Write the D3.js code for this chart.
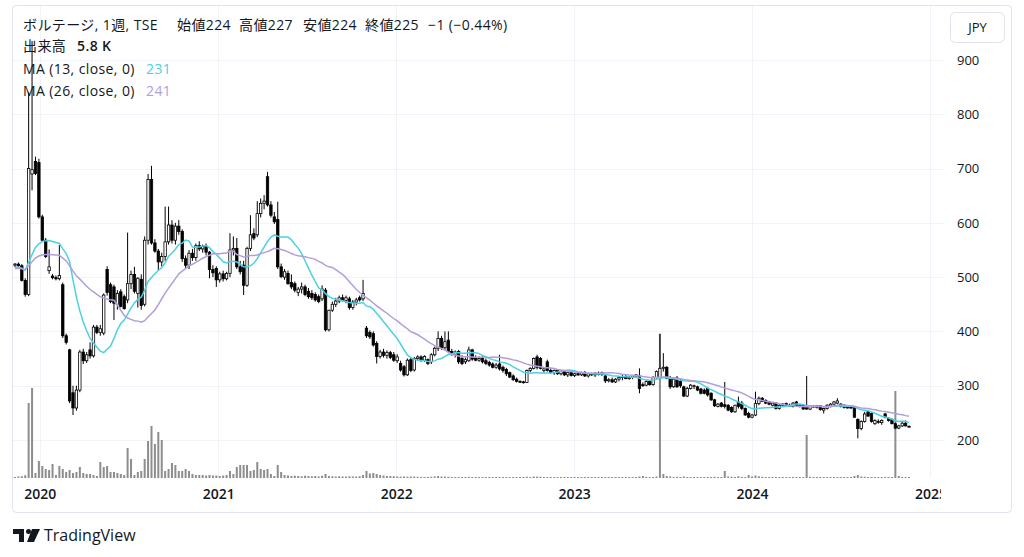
<!DOCTYPE html>
<html>
<head>
<meta charset="utf-8">
<script src="https://cdn.jsdelivr.net/npm/d3@7"></script>
<style>
  body { margin: 0; background: #fff; }
  svg text { font-family: "Open Sans", "Noto Sans CJK JP", sans-serif; fill: #131722; }
</style>
</head>
<body>
<svg id="chart" width="1024" height="557"></svg>
<script>
// weekly bars, first bar week
const firstWeek = "2019-11-11";

const opens = [
  522,524,521,494,468,690,713,711,611,568,
  512,502,499,497,486,392,366,287,259,292,
  362,346,366,355,408,398,397,514,486,482,
  450,473,464,458,488,505,470,496,450,568,
  680,563,548,528,538,565,596,568,594,584,
  534,522,544,536,558,552,557,546,514,516,
  495,506,497,507,550,553,519,522,485,553,
  580,578,617,636,685,633,611,606,519,500,
  507,490,488,472,478,482,474,470,468,464,
  460,476,403,439,450,456,462,457,460,444,
  454,462,460,406,398,396,378,354,362,356,
  361,357,346,341,335,320,348,329,350,353,
  347,348,344,357,369,387,370,384,363,358,
  363,350,344,346,366,352,347,352,346,343,
  340,334,340,334,330,324,318,312,308,307,
  306,328,332,353,350,328,344,328,324,328,
  322,326,320,324,319,322,320,324,318,322,
  320,323,321,318,309,311,307,312,315,317,
  313,315,318,318,302,301,308,302,315,314,
  332,334,314,298,314,308,298,281,295,299,
  298,294,292,295,286,274,262,268,265,264,
  260,252,270,268,258,249,242,246,267,277,
  273,270,264,268,258,264,267,264,262,270,
  262,264,263,257,262,260,263,255,258,262,
  266,268,266,264,262,261,260,238,221,234,
  252,249,230,234,232,248,240,238,230,222,
  226,231,224
];
const highs = [
  526,527,524,498,840,935,722,718,615,572,
  551,506,503,559,490,396,368,300,300,366,
  368,362,380,412,412,412,470,520,490,486,
  476,478,468,582,512,519,500,505,575,690,
  705,570,552,545,630,630,605,600,605,588,
  540,550,552,562,566,560,562,548,522,520,
  510,512,510,581,575,572,530,530,556,614,
  590,640,645,651,694,640,620,639,525,515,
  512,505,492,482,490,486,480,476,472,468,
  485,480,440,455,462,466,468,466,464,458,
  462,466,495,410,402,400,382,366,368,365,
  364,362,358,346,338,350,352,353,356,356,
  356,350,360,372,400,392,400,400,368,365,
  366,356,352,372,368,356,354,356,350,346,
  343,342,357,337,333,326,321,315,310,309,
  330,334,352,357,353,333,348,332,330,330,
  328,328,326,326,324,325,326,327,324,324,
  325,326,326,320,314,315,314,318,320,320,
  318,320,321,332,306,310,310,318,328,396,
  360,336,318,315,318,312,300,298,303,302,
  300,296,295,298,288,276,268,270,307,266,
  262,265,280,272,260,252,248,289,280,279,
  275,272,270,270,266,268,269,267,270,272,
  266,266,318,263,264,264,264,260,266,268,
  272,277,268,266,264,263,262,240,236,252,
  254,251,238,238,238,250,242,240,232,228,
  234,236,227
];
const lows = [
  518,519,492,464,465,660,688,608,565,535,
  506,496,494,494,388,376,268,246,254,288,
  340,342,350,352,395,392,393,466,452,421,
  440,444,440,452,478,470,444,440,446,560,
  560,545,513,520,530,560,562,560,578,528,
  515,515,530,530,548,545,540,498,500,482,
  490,492,494,500,540,515,505,467,482,548,
  568,574,610,625,630,610,598,515,498,495,
  486,478,472,465,470,465,460,458,455,452,
  456,400,400,436,445,452,455,452,440,440,
  448,455,456,388,386,372,341,350,352,350,
  349,344,342,326,317,318,325,326,346,344,
  344,338,340,354,364,366,366,360,355,352,
  340,338,340,344,346,345,344,341,338,335,
  332,331,328,324,318,314,309,306,305,304,
  305,325,330,330,330,324,326,322,320,320,
  319,318,316,317,316,318,318,316,315,318,
  316,319,318,305,306,305,305,308,310,312,
  311,312,314,286,298,299,300,300,313,312,
  326,312,294,296,296,296,279,279,293,294,
  290,284,284,280,272,261,260,260,258,253,
  250,250,258,255,245,240,240,244,264,270,
  266,264,262,256,256,262,262,262,260,262,
  260,256,256,255,259,258,254,249,256,260,
  264,266,260,258,258,257,241,203,218,232,
  243,232,228,230,228,240,234,229,220,220,
  224,225,224
];
const closes = [
  524,521,494,468,700,698,691,611,568,538,
  519,499,497,503,392,380,272,259,292,362,
  346,357,355,408,398,405,467,472,455,452,
  470,446,442,488,505,474,498,448,568,680,
  563,548,528,538,565,596,568,594,584,534,
  522,544,536,558,552,557,546,514,508,495,
  506,497,507,550,553,519,510,485,553,578,
  572,617,636,640,633,614,602,519,501,510,
  488,482,476,478,482,468,464,462,458,455,
  478,403,439,450,456,462,457,462,444,454,
  458,458,470,392,390,375,354,362,356,361,
  352,347,353,329,320,347,328,350,353,347,
  354,341,357,369,387,370,381,363,360,362,
  344,341,348,366,349,347,350,344,341,338,
  334,338,331,328,322,316,311,308,307,306,
  328,332,350,334,332,331,328,324,328,322,
  326,320,324,319,322,320,324,318,322,320,
  323,321,324,309,311,307,312,315,317,313,
  315,318,320,295,300,308,302,315,326,332,
  334,314,298,312,298,300,281,295,301,300,
  292,286,286,283,274,263,266,262,262,255,
  252,264,262,258,246,242,246,267,277,271,
  268,266,268,258,264,266,264,264,268,264,
  264,257,257,262,261,263,256,258,264,266,
  270,272,262,260,259,259,242,221,234,248,
  244,234,236,234,236,242,236,230,222,226,
  231,226,225
];
// volume, thousand shares
const volumes = [
  20,30,35,55,1500,1800,100,340,240,180,
  160,280,60,240,180,120,160,100,120,220,
  100,80,80,60,40,320,220,240,120,120,
  100,80,60,600,380,60,120,140,380,740,
  1040,680,920,760,140,180,300,260,140,140,
  180,140,80,60,60,60,50,60,50,50,
  40,50,60,140,80,220,260,260,260,140,
  160,320,180,160,180,80,40,260,120,60,
  50,40,45,40,35,45,40,35,40,30,
  45,80,40,35,30,35,30,28,35,30,
  30,35,60,140,90,100,80,60,50,40,
  40,35,30,28,30,25,30,28,25,22,
  20,22,25,30,40,30,28,25,22,20,
  22,20,18,25,20,18,16,18,15,16,
  15,14,20,16,15,14,12,12,10,12,
  25,20,30,28,25,18,20,16,14,15,
  14,12,12,10,12,10,12,11,10,12,
  10,12,10,14,12,10,11,10,12,10,
  10,12,14,30,40,20,16,18,30,2880,
  80,40,30,22,25,20,30,20,18,16,
  16,14,16,14,20,25,18,16,140,30,
  25,20,35,22,20,60,30,50,35,25,
  20,18,16,15,20,14,16,14,15,14,
  14,20,860,25,18,16,14,12,14,16,
  20,18,14,12,12,14,40,60,30,25,
  20,18,16,14,14,22,16,14,1740,40,
  20,12,5.8
];
const priorCloses = [508,512,515,510,506,511,518,520,516,512,509,514,519,522,517,513,510,515,520,523,518,514,517,521,523];

const priceTicks = [200, 300, 400, 500, 600, 700, 800, 900];
const yearTicks = ["2020", "2021", "2022", "2023", "2024", "2025"];
const maPeriods = [13, 26];
const maColors = ["#4dd0e1", "#b39ddb"];
const maLastValues = ["231", "241"];

const margin = {left: 13, right: 945, top: 6, bottom: 478};

const svg = d3.select("#chart");
const t0 = d3.timeParse("%Y-%m-%d")(firstWeek);
const dates = closes.map((d, i) => d3.timeWeek.offset(t0, i));

const x = d3.scaleTime()
  .domain([t0, d3.timeWeek.offset(t0, 268)])
  .range([15, 929.5]);
const y = d3.scaleLinear().domain([200, 900]).range([440, 60]);
const vh = d3.scaleLinear().domain([0, 2880]).range([0, 144]);

// outer frame
svg.append("rect")
  .attr("x", 12.5).attr("y", 5.5).attr("width", 999).attr("height", 507)
  .attr("rx", 4).attr("fill", "#fff").attr("stroke", "#e0e3eb");

const defs = svg.append("defs");
defs.append("clipPath").attr("id", "pane").append("rect")
  .attr("x", margin.left).attr("y", margin.top)
  .attr("width", margin.right - margin.left).attr("height", margin.bottom - margin.top);
defs.append("clipPath").attr("id", "timeaxis").append("rect")
  .attr("x", margin.left).attr("y", margin.bottom)
  .attr("width", margin.right - 4 - margin.left).attr("height", 34);

const yearDates = yearTicks.map(s => new Date(+s, 0, 1));

// grid
const grid = svg.append("g").attr("stroke", "#f0f3fa").attr("stroke-width", 1);
grid.selectAll(".hg").data(priceTicks).enter().append("line")
  .attr("x1", margin.left).attr("x2", margin.right)
  .attr("y1", d => Math.round(y(d)) + 0.5).attr("y2", d => Math.round(y(d)) + 0.5);
grid.selectAll(".vg").data(yearDates).enter().append("line")
  .attr("x1", d => Math.round(x(d)) + 0.5).attr("x2", d => Math.round(x(d)) + 0.5)
  .attr("y1", margin.top).attr("y2", margin.bottom);

const pane = svg.append("g").attr("clip-path", "url(#pane)");

// volume
pane.append("g").selectAll("rect").data(volumes).enter().append("rect")
  .attr("x", (d, i) => x(dates[i]) - 1)
  .attr("width", 2)
  .attr("y", d => margin.bottom - Math.max(1, vh(d)))
  .attr("height", d => Math.max(1, vh(d)))
  .attr("fill", "#8d8d8d");

// candles
const candles = pane.append("g");
candles.selectAll("line").data(closes).enter().append("line")
  .attr("x1", (d, i) => x(dates[i])).attr("x2", (d, i) => x(dates[i]))
  .attr("y1", (d, i) => y(highs[i])).attr("y2", (d, i) => y(lows[i]))
  .attr("stroke", "#000").attr("stroke-width", 1);
candles.selectAll("rect").data(closes).enter().append("rect")
  .attr("x", (d, i) => x(dates[i]) - 1.2)
  .attr("width", 2.4)
  .attr("y", (d, i) => y(Math.max(opens[i], d)))
  .attr("height", (d, i) => Math.max(0.8, Math.abs(y(opens[i]) - y(d))))
  .attr("fill", (d, i) => d >= opens[i] ? "#fff" : "#000")
  .attr("stroke", "#000").attr("stroke-width", 0.8);

// moving averages
const allCloses = priorCloses.concat(closes);
maPeriods.forEach((n, k) => {
  const ma = closes.map((d, i) => {
    const end = i + priorCloses.length;
    return d3.mean(allCloses.slice(end - n + 1, end + 1));
  });
  pane.append("path")
    .datum(ma)
    .attr("fill", "none")
    .attr("stroke", maColors[k])
    .attr("stroke-width", 1.5)
    .attr("d", d3.line().x((d, i) => x(dates[i])).y(d => y(d)));
});

// price axis
const yAxis = svg.append("g")
  .attr("transform", `translate(${margin.right},0)`)
  .call(d3.axisRight(y).tickValues(priceTicks).tickSize(0).tickPadding(12));
yAxis.select(".domain").remove();
yAxis.selectAll("text").style("font-size", "13px").attr("fill", "#131722");

// time axis (clipped at the price scale, like "202!" in the original)
const xAxis = svg.append("g").attr("clip-path", "url(#timeaxis)")
  .append("g")
  .attr("transform", `translate(0,${margin.bottom})`)
  .call(d3.axisBottom(x).tickValues(yearDates).tickFormat(d3.timeFormat("%Y")).tickSize(0).tickPadding(11));
xAxis.select(".domain").remove();
xAxis.selectAll("text").style("font-size", "14px").style("font-weight", "600").attr("fill", "#131722");

// currency button
svg.append("rect").attr("x", 950.5).attr("y", 12.5).attr("width", 54).attr("height", 30)
  .attr("rx", 5).attr("fill", "#fff").attr("stroke", "#e0e3eb");
svg.append("text").attr("x", 977.5).attr("y", 32).attr("text-anchor", "middle")
  .style("font-size", "13px").text("JPY");

// legend
const legend = svg.append("g").style("font-size", "14px").style("letter-spacing", "0.4px");
const row1 = [
  ["ボルテージ, 1週, TSE", 23],
  ["始値224", 177], ["高値227", 239], ["安値224", 303], ["終値225", 365],
  ["−1 (−0.44%)", 428]
];
row1.forEach(([t, px]) => legend.append("text").attr("x", px).attr("y", 30).text(t));
legend.append("text").attr("x", 23).attr("y", 51).text("出来高");
legend.append("text").attr("x", 77).attr("y", 51).style("font-weight", "600").text("5.8 K");
maPeriods.forEach((n, k) => {
  const ty = 74 + k * 22;
  legend.append("text").attr("x", 23).attr("y", ty).text(`MA (${n}, close, 0)`);
  legend.append("text").attr("x", 146).attr("y", ty).style("fill", maColors[k]).text(maLastValues[k]);
});

// TradingView logo
const logo = svg.append("g").attr("fill", "#131722");
logo.append("path").attr("d", "M13,529 h11 v13 h-5 v-8 h-6 z");
logo.append("circle").attr("cx", 28.5).attr("cy", 531.5).attr("r", 2.5);
logo.append("path").attr("d", "M32,529 h8 l-6,13 h-7 z");
svg.append("text").attr("x", 44).attr("y", 541).style("font-size", "16px").text("TradingView");
</script>
</body>
</html>
